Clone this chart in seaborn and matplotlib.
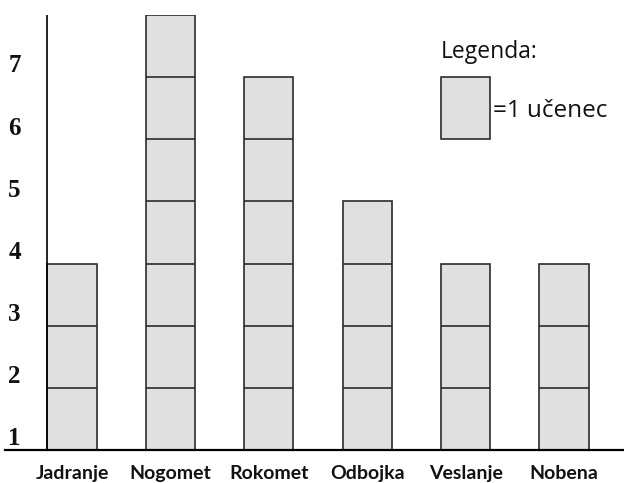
import matplotlib
matplotlib.use("Agg")
import matplotlib.pyplot as plt
import seaborn as sns
import pandas as pd
from matplotlib.patches import Rectangle

categories = ["Jadranje", "Nogomet", "Rokomet", "Odbojka", "Veslanje", "Nobena"]
counts = [3, 7, 6, 4, 3, 3]
y_labels = [1, 2, 3, 4, 5, 6, 7]
legend_title = "Legenda:"
legend_text = "=1 učenec"

sns.set_theme(style="white")
plt.rcParams["font.family"] = ["Lato", "DejaVu Sans"]

fill = "#e0e0e0"
edge = "#2b2b2b"

fig = plt.figure(figsize=(6.24, 4.83), dpi=100)
ax = fig.add_axes([5 / 624, 33 / 483, 619 / 624, 435 / 483])

df = pd.DataFrame({"kategorija": categories, "stevilo": counts})
sns.barplot(data=df, x="kategorija", y="stevilo", order=categories,
            width=0.5, color=fill, edgecolor=edge, linewidth=1.2,
            saturation=1, ax=ax)

# unit separators
for i, n in enumerate(counts):
    for k in range(1, n):
        ax.hlines(k, i - 0.25, i + 0.25, color=edge, linewidth=1.2, zorder=5)

ax.set_xlim(-0.681, 5.61)
ax.set_ylim(0, 7)

for s in ["top", "right", "left"]:
    ax.spines[s].set_visible(False)
ax.spines["bottom"].set_color("black")
ax.spines["bottom"].set_linewidth(1.6)

ax.plot([-0.25, -0.25], [0, 7], color="black", linewidth=1.2, zorder=6,
        solid_capstyle="butt")

ax.set_xlabel("")
ax.set_ylabel("")
ax.set_yticks([])
ax.set_xticks(range(len(categories)))
ax.set_xticklabels(categories, fontsize=14, fontweight="bold", color="#111111")
ax.tick_params(axis="x", length=0, pad=11)

for v in y_labels:
    ax.text(-0.585, v - 0.82, str(v), ha="center", va="center",
            fontsize=18, fontweight="bold", family="Liberation Serif",
            color="#111111")

# legend
ax.add_patch(Rectangle((4 - 0.25, 5), 0.5, 1, facecolor=fill, edgecolor=edge,
                       linewidth=1.2, zorder=5))
ax.text(3.75, 6.41, legend_title, ha="left", va="center", fontsize=16.5,
        family=["Open Sans", "DejaVu Sans"], color="#111111")
ax.text(4.28, 5.45, legend_text, ha="left", va="center", fontsize=17.5,
        family=["Open Sans", "DejaVu Sans"], color="#111111")

fig.savefig("out.png", dpi=100)
